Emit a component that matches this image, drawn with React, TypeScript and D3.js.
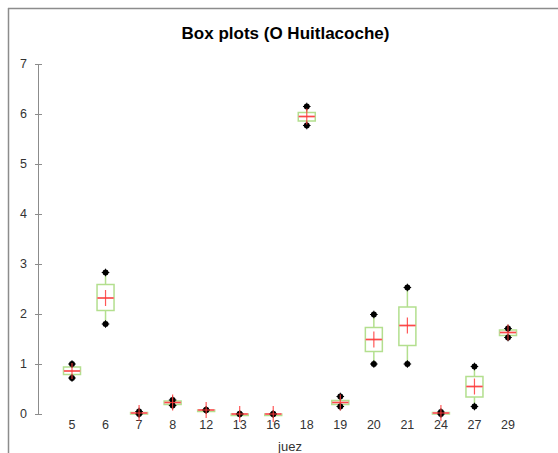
import React from "react";
import * as d3 from "d3";

// Summary statistics per judge (juez)
const jueces = ["5", "6", "7", "8", "12", "13", "16", "18", "19", "20", "21", "24", "27", "29"];
const minimo = [0.72, 1.8, 0.0, 0.17, 0.08, 0.0, 0.0, 5.77, 0.15, 1.0, 1.0, 0.0, 0.15, 1.53];
const q1 = [0.79, 2.07, 0.01, 0.19, 0.08, 0.0, 0.0, 5.86, 0.19, 1.25, 1.37, 0.01, 0.34, 1.57];
const mediana = [0.86, 2.32, 0.02, 0.23, 0.08, 0.0, 0.0, 5.95, 0.23, 1.49, 1.77, 0.02, 0.55, 1.63];
const q3 = [0.94, 2.59, 0.03, 0.26, 0.08, 0.0, 0.0, 6.03, 0.27, 1.73, 2.14, 0.03, 0.75, 1.68];
const maximo = [1.0, 2.83, 0.05, 0.28, 0.08, 0.0, 0.0, 6.15, 0.35, 1.99, 2.53, 0.04, 0.95, 1.71];
const media = [0.86, 2.32, 0.02, 0.23, 0.08, 0.0, 0.0, 5.95, 0.23, 1.49, 1.77, 0.02, 0.55, 1.63];
const yTicks = [0, 1, 2, 3, 4, 5, 6, 7];

const W = 558;
const H = 453;
const FONT = "Arial, 'Liberation Sans', sans-serif";
const GREEN = "#b3df8e";
const PINK = "#f59a9a";
const RED = "#ff3b3b";

export default function App() {
  const x = d3.scalePoint<string>().domain(jueces).range([72, 508]);
  const y = d3.scaleLinear().domain([0, 7]).range([414, 64]);
  const boxW = 17;
  const cross = 8;

  const marker = (cx: number, cy: number, key: string) => (
    <g key={key}>
      <circle cx={cx} cy={cy} r={3} fill="#000" />
      <line x1={cx - 3.8} x2={cx + 3.8} y1={cy} y2={cy} stroke="#000" strokeWidth={1} />
      <line x1={cx} x2={cx} y1={cy - 3.8} y2={cy + 3.8} stroke="#000" strokeWidth={1} />
    </g>
  );

  return (
    <div style={{ position: "fixed", left: 0, top: 0 }}>
      <svg width={W} height={H} style={{ display: "block", background: "#fff" }}>
        {/* frame */}
        <line x1={8} x2={W} y1={8.5} y2={8.5} stroke="#8c8c8c" strokeWidth={1.5} />
        <line x1={8.5} x2={8.5} y1={8} y2={H} stroke="#8c8c8c" strokeWidth={1.5} />

        <text x={285.5} y={39} textAnchor="middle" fontFamily={FONT} fontWeight="bold" fontSize={17} fill="#000">
          Box plots (O Huitlacoche)
        </text>

        {/* y axis */}
        <line x1={38.5} x2={38.5} y1={y(7)} y2={y(0)} stroke="#8c8c8c" strokeWidth={1} />
        {yTicks.map((t) => (
          <g key={t}>
            <line x1={35} x2={42} y1={y(t) + 0.5} y2={y(t) + 0.5} stroke="#8c8c8c" strokeWidth={1} />
            <text x={27} y={y(t)} dy="0.35em" textAnchor="end" fontFamily={FONT} fontSize={12.5} fill="#333">
              {t}
            </text>
          </g>
        ))}

        {/* x labels */}
        {jueces.map((j) => (
          <text key={j} x={x(j)} y={429} textAnchor="middle" fontFamily={FONT} fontSize={12.5} fill="#333">
            {j}
          </text>
        ))}
        <text x={290} y={451} textAnchor="middle" fontFamily={FONT} fontSize={13} fill="#333">
          juez
        </text>

        {/* boxes */}
        {jueces.map((j, i) => {
          const cx = x(j) as number;
          const top = y(q3[i]);
          const bot = y(q1[i]);
          return (
            <g key={j}>
              <line x1={cx} x2={cx} y1={y(maximo[i])} y2={top} stroke={GREEN} strokeWidth={1.5} />
              <line x1={cx} x2={cx} y1={bot} y2={y(minimo[i])} stroke={GREEN} strokeWidth={1.5} />
              <rect
                x={cx - boxW / 2}
                y={top}
                width={boxW}
                height={Math.max(bot - top, 1.5)}
                fill="none"
                stroke={GREEN}
                strokeWidth={1.5}
              />
              <line x1={cx - boxW / 2} x2={cx + boxW / 2} y1={y(mediana[i])} y2={y(mediana[i])} stroke={PINK} strokeWidth={2} />
              {marker(cx, y(maximo[i]), "max")}
              {marker(cx, y(minimo[i]), "min")}
              <line x1={cx - cross} x2={cx + cross} y1={y(media[i])} y2={y(media[i])} stroke={RED} strokeWidth={1.2} opacity={0.85} />
              <line x1={cx} x2={cx} y1={y(media[i]) - cross} y2={y(media[i]) + cross} stroke={RED} strokeWidth={1.2} opacity={0.85} />
            </g>
          );
        })}
      </svg>
    </div>
  );
}
